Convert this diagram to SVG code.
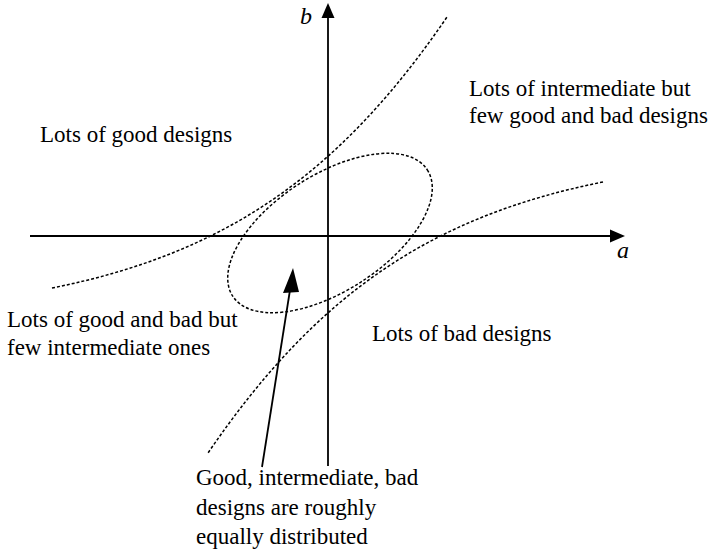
<svg xmlns="http://www.w3.org/2000/svg" width="715" height="549" viewBox="0 0 715 549">
  <rect width="715" height="549" fill="#fff"/>
  <g id="curves" fill="none" stroke="#000" stroke-width="1.5" stroke-dasharray="3 2">
    <path id="upper-curve" d="M52,288 C222,254 337,178 447,17"/>
    <path id="lower-curve" d="M603,182 C433,216 318,292 208,453"/>
    <ellipse id="region-ellipse" cx="330" cy="233" rx="116" ry="58" transform="rotate(-33 330 233)"/>
  </g>
  <g id="connectors" stroke="#000" stroke-width="1.8">
    <line x1="30" y1="236" x2="612" y2="236"/>
    <polygon points="625,236 610,229.5 610,242.5" fill="#000" stroke="none"/>
    <line x1="328" y1="466" x2="328" y2="15"/>
    <polygon points="328,3 321.5,18 334.5,18" fill="#000" stroke="none"/>
    <line x1="262" y1="467" x2="290" y2="290"/>
    <polygon points="293,268 283,293 299,292" fill="#000" stroke="none"/>
  </g>
  <text id="axis-b" x="300" y="24" font-family="Liberation Serif, Times New Roman, serif" font-size="24" font-style="italic">b</text>
  <text id="axis-a" x="617" y="258" font-family="Liberation Serif, Times New Roman, serif" font-size="24" font-style="italic">a</text>
  <text id="good" x="40" y="142" font-family="Liberation Serif, Times New Roman, serif" font-size="23">Lots of good designs</text>
  <text id="intermediate-1" x="469" y="96" font-family="Liberation Serif, Times New Roman, serif" font-size="23">Lots of intermediate but</text>
  <text id="intermediate-2" x="469" y="123" font-family="Liberation Serif, Times New Roman, serif" font-size="23">few good and bad designs</text>
  <text id="good-bad-1" x="7" y="327" font-family="Liberation Serif, Times New Roman, serif" font-size="23">Lots of good and bad but</text>
  <text id="good-bad-2" x="7" y="355" font-family="Liberation Serif, Times New Roman, serif" font-size="23">few intermediate ones</text>
  <text id="bad" x="372" y="341" font-family="Liberation Serif, Times New Roman, serif" font-size="23">Lots of bad designs</text>
  <text id="equal-1" x="196" y="485" font-family="Liberation Serif, Times New Roman, serif" font-size="23">Good, intermediate, bad</text>
  <text id="equal-2" x="196" y="515" font-family="Liberation Serif, Times New Roman, serif" font-size="23">designs are roughly</text>
  <text id="equal-3" x="196" y="544" font-family="Liberation Serif, Times New Roman, serif" font-size="23">equally distributed</text>
</svg>
